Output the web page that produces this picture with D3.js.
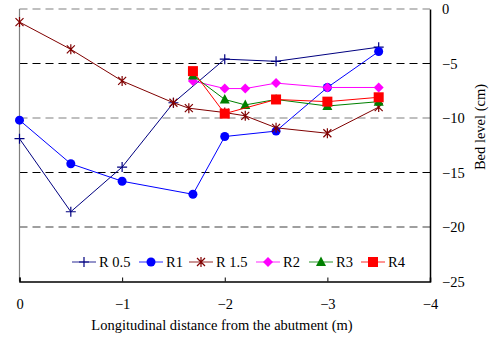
<!DOCTYPE html>
<html>
<head>
<meta charset="utf-8">
<script src="https://cdn.jsdelivr.net/npm/d3@7"></script>
<style>
  body { margin: 0; background: #fff; }
  text { font-family: "Liberation Serif", "Times New Roman", serif; }
</style>
</head>
<body>
<div id="chart"></div>
<script>
// distances (m) and bed levels (cm)
const xR05 = [0, -0.5, -1, -1.5, -2, -2.5, -3.5];
const yR05 = [-11.9, -18.6, -14.5, -8.6, -4.6, -4.8, -3.5];
const xR1 = [0, -0.5, -1, -1.69, -2, -2.5, -3, -3.5];
const yR1 = [-10.2, -14.2, -15.8, -17.0, -11.7, -11.2, -7.2, -3.9];
const xR15 = [0, -0.5, -1, -1.5, -1.65, -2, -2.2, -2.5, -3, -3.5];
const yR15 = [-1.2, -3.7, -6.6, -8.6, -9.1, -9.5, -9.8, -10.9, -11.4, -9.0];
const xR2 = [-1.69, -2, -2.2, -2.5, -3, -3.5];
const yR2 = [-6.6, -7.3, -7.3, -6.8, -7.2, -7.2];
const xR3 = [-1.69, -2, -2.2, -2.5, -3, -3.5];
const yR3 = [-6.1, -8.3, -8.8, -8.3, -8.9, -8.5];
const xR4 = [-1.69, -2, -2.5, -3, -3.5];
const yR4 = [-5.7, -9.6, -8.3, -8.5, -8.1];

const xTicks = [0, -1, -2, -3, -4];
const yTicks = [0, -5, -10, -15, -20, -25];

const series = [
  { name: "R 0.5", xs: xR05, ys: yR05, color: "#000080", marker: "plus" },
  { name: "R1", xs: xR1, ys: yR1, color: "#0000ff", marker: "circle" },
  { name: "R 1.5", xs: xR15, ys: yR15, color: "#800000", marker: "star" },
  { name: "R2", xs: xR2, ys: yR2, color: "#ff00ff", marker: "diamond" },
  { name: "R3", xs: xR3, ys: yR3, color: "#008000", marker: "triangle" },
  { name: "R4", xs: xR4, ys: yR4, color: "#ff0000", marker: "square" }
];

const W = 491, H = 338;
const mLeft = 19.5, mRight = 430, mTop = 9, mBottom = 281.5;
const FS = 14.5;

const svg = d3.select("#chart").append("svg")
  .attr("width", W).attr("height", H);

const x = d3.scaleLinear().domain([0, -4]).range([mLeft, mRight]);
const y = d3.scaleLinear().domain([0, -25]).range([mTop, mBottom]);

// grid lines
const gridColor = { "-5": "#000", "-10": "#808080", "-15": "#000", "-20": "#404040" };
svg.append("g").selectAll("line")
  .data(yTicks.filter(d => d < 0 && d > -25))
  .join("line")
  .attr("x1", mLeft).attr("x2", mRight)
  .attr("y1", d => y(d)).attr("y2", d => y(d))
  .attr("stroke", d => gridColor[d])
  .attr("stroke-width", 1.2)
  .attr("stroke-dasharray", "8,5");

// frame
svg.append("line").attr("x1", mLeft).attr("x2", mRight).attr("y1", mTop).attr("y2", mTop)
  .attr("stroke", "#808080").attr("stroke-width", 1.2).attr("stroke-dasharray", "8,5");
svg.append("line").attr("x1", mLeft).attr("x2", mLeft).attr("y1", mTop).attr("y2", mBottom)
  .attr("stroke", "#808080").attr("stroke-width", 1.2);

// bottom axis
const xAxis = svg.append("g").attr("transform", `translate(0,${mBottom})`)
  .call(d3.axisBottom(x).tickValues(xTicks).tickSize(-4).tickPadding(17).tickFormat(d3.format("d")));
xAxis.select(".domain").attr("stroke", "#000").attr("stroke-width", 1.5);
xAxis.selectAll(".tick line").attr("stroke", "#000");
xAxis.selectAll(".tick text").attr("font-size", FS).attr("fill", "#000");

// right axis
const yAxis = svg.append("g").attr("transform", `translate(${mRight},0)`)
  .call(d3.axisRight(y).tickValues(yTicks).tickSize(0).tickPadding(12).tickFormat(d3.format("d")));
yAxis.select(".domain").attr("stroke", "#000").attr("stroke-width", 1.5);
yAxis.selectAll(".tick text").attr("font-size", FS).attr("fill", "#000");

// titles
svg.append("text")
  .attr("x", 222).attr("y", 330)
  .attr("text-anchor", "middle").attr("font-size", FS)
  .text("Longitudinal distance from the abutment (m)");
svg.append("text")
  .attr("transform", "translate(485,127) rotate(-90)")
  .attr("text-anchor", "middle").attr("font-size", FS)
  .text("Bed level (cm)");

function drawMarker(g, type, color) {
  if (type === "plus") {
    g.append("path").attr("d", "M-5,0H5M0,-5V5").attr("stroke", color).attr("stroke-width", 1.2);
  } else if (type === "circle") {
    g.append("circle").attr("r", 4.5).attr("fill", color);
  } else if (type === "star") {
    g.append("path").attr("d", "M-4,-4L4,4M-4,4L4,-4M0,-5V5")
      .attr("stroke", color).attr("stroke-width", 1.2);
  } else if (type === "diamond") {
    g.append("path").attr("d", "M0,-5L5,0L0,5L-5,0Z").attr("fill", color);
  } else if (type === "triangle") {
    g.append("path").attr("d", "M0,-5.5L5,4L-5,4Z").attr("fill", color);
  } else if (type === "square") {
    g.append("rect").attr("x", -5).attr("y", -5).attr("width", 10).attr("height", 10).attr("fill", color);
  }
}

const line = d3.line().x(d => x(d[0])).y(d => y(d[1]));

series.forEach(s => {
  const pts = s.xs.map((v, i) => [v, s.ys[i]]);
  const g = svg.append("g");
  g.append("path").datum(pts)
    .attr("d", line).attr("fill", "none")
    .attr("stroke", s.color).attr("stroke-width", 1);
  g.selectAll("g.pt").data(pts).join("g")
    .attr("class", "pt")
    .attr("transform", d => `translate(${x(d[0])},${y(d[1])})`)
    .each(function () { drawMarker(d3.select(this), s.marker, s.color); });
});

// legend
const legendX = [72, 139, 189, 256, 309, 361];
const legendY = 262;
const lg = svg.append("g");
series.forEach((s, i) => {
  const g = lg.append("g").attr("transform", `translate(${legendX[i]},${legendY})`);
  g.append("line").attr("x1", 0).attr("x2", 24)
    .attr("stroke", s.color).attr("stroke-opacity", 0.7).attr("stroke-width", 1.2);
  const m = g.append("g").attr("transform", "translate(12,0)");
  drawMarker(m, s.marker, s.color);
  g.append("text").attr("x", 27).attr("y", 5)
    .attr("font-size", FS).text(s.name);
});
</script>
</body>
</html>
